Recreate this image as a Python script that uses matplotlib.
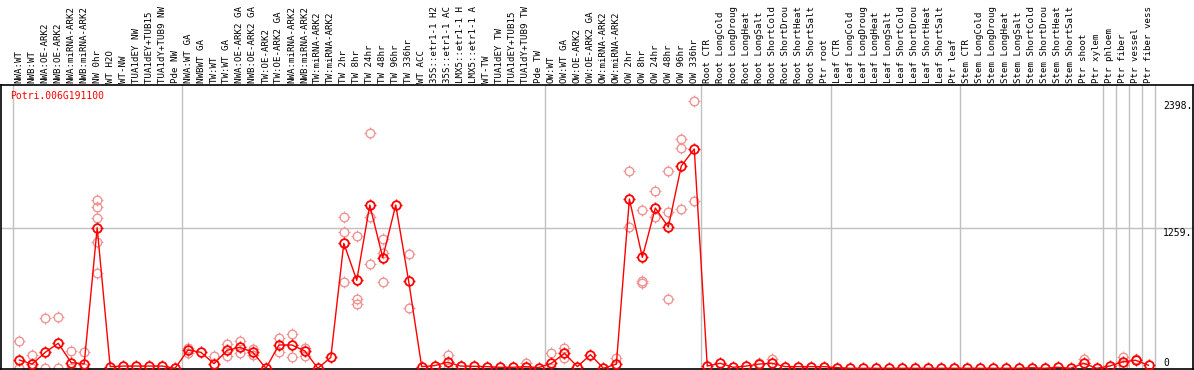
import matplotlib
matplotlib.use("Agg")
import matplotlib.pyplot as plt
import matplotlib.transforms as mtransforms
from matplotlib.path import Path
import numpy as np

categories = [
    "NWA:WT", "NWB:WT", "NWA:OE-ARK2", "NWB:OE-ARK2", "NWA:miRNA-ARK2", "NWB:miRNA-ARK2",
    "NW 0hr", "WT H2O", "WT-NW", "TUA1dEY NW", "TUA1dEY+TUB15 NW", "TUA1dY+TUB9 NW", "Pde NW",
    "NWA:WT GA", "NWBWT GA", "TW:WT", "TW:WT GA", "NWA:OE-ARK2 GA", "NWB:OE-ARK2 GA",
    "TW:OE-ARK2", "TW:OE-ARK2 GA", "NWA:miRNA-ARK2", "NWB:miRNA-ARK2", "TW:miRNA-ARK2",
    "TW:miRNA-ARK2", "TW 2hr", "TW 8hr", "TW 24hr", "TW 48hr", "TW 96hr", "TW 336hr",
    "WT ACC", "35S::etr1-1 H2O", "35S::etr1-1 ACC", "LMX5::etr1-1 H2O", "LMX5::etr1-1 ACC",
    "WT-TW", "TUA1dEY TW", "TUA1dEY+TUB15 TW", "TUA1dY+TUB9 TW", "Pde TW",
    "OW:WT", "OW:WT GA", "OW:OE-ARK2", "OW:OE-ARK2 GA", "OW:miRNA-ARK2", "OW:miRNA-ARK2",
    "OW 2hr", "OW 8hr", "OW 24hr", "OW 48hr", "OW 96hr", "OW 336hr",
    "Root CTR", "Root LongCold", "Root LongDrought", "Root LongHeat", "Root LongSalt",
    "Root ShortCold", "Root ShortDrought", "Root ShortHeat", "Root ShortSalt", "Ptr root",
    "Leaf CTR", "Leaf LongCold", "Leaf LongDrought", "Leaf LongHeat", "Leaf LongSalt",
    "Leaf ShortCold", "Leaf ShortDrought", "Leaf ShortHeat", "Leaf ShortSalt", "Ptr leaf",
    "Stem CTR", "Stem LongCold", "Stem LongDrought", "Stem LongHeat", "Stem LongSalt",
    "Stem ShortCold", "Stem ShortDrought", "Stem ShortHeat", "Stem ShortSalt", "Ptr shoot",
    "Ptr xylem", "Ptr phloem", "Ptr fiber", "Ptr vessel", "Ptr fiber vessel",
]

means = [
    74, 38, 143, 224, 50, 41, 1259, 15, 20, 20, 20, 20, 0,
    164, 143, 41, 161, 188, 143, 0, 209, 209, 155, 0, 98,
    1119, 788, 1462, 991, 1462, 779,
    15, 24, 54, 20, 18, 15, 9, 9, 15, 6,
    45, 134, 15, 122, 0, 38, 1516, 994, 1435, 1265, 1812, 1964,
    20, 45, 9, 20, 38, 45, 15, 15, 15, 15,
    6, 0, 0, 0, 0, 0, 0, 0, 0, 0,
    0, 0, 0, 0, 0, 5, 0, 9, 0, 45, 0,
    20, 58, 72, 27,
]

replicates = {
    0: [244, 0], 1: [116, 0], 2: [448, 0], 3: [457, 0], 4: [155, 0], 5: [143, 0],
    6: [1507, 1442, 1343, 1128, 856],
    13: [185, 134], 15: [114], 16: [218, 113], 17: [247, 134], 18: [170, 120],
    20: [268, 143], 21: [304, 104], 22: [179, 113],
    25: [1352, 1218, 770], 26: [1182, 620, 576], 27: [2104, 1355, 934],
    28: [1158, 1030, 770], 30: [1023, 537], 33: [116, 0], 39: [45],
    41: [134, 0], 42: [179, 89], 46: [89],
    47: [1767, 1262], 48: [1418, 782, 761], 49: [1588, 1358],
    50: [1767, 1400, 618], 51: [2053, 1973, 1427], 52: [2398, 1498],
    57: [50], 58: [80], 82: [80], 85: [103, 27], 86: [80],
}

group_bounds = [-0.5, 12.5, 40.5, 52.5, 62.5, 72.5, 83.5, 84.5, 85.5, 86.5, 87.5]
y_ticks = [2398, 1259, 0]
gene = "Potri.006G191100"
max_label_chars = 14

W, H = 1194, 370
fig = plt.figure(figsize=(W / 100, H / 100), dpi=100)
ax = fig.add_axes([1 / W, (H - 368.5) / H, 1192 / W, (368.5 - 85) / H])

x0_px, dx_px = 19.3, 12.98
ax.set_xlim((1 - x0_px) / dx_px, (1193 - x0_px) / dx_px)
scale = 0.11167
ax.set_ylim(-(368.5 - 368.3) / scale, (368.3 - 85) / scale)
ax.set_xticks([])
ax.set_yticks([])
for s in ax.spines.values():
    s.set_color("black")
    s.set_linewidth(1.2)

grid_c = "#c0c0c0"
for b in group_bounds:
    ax.axvline(b, color=grid_c, lw=1.0, zorder=1)
ax.axhline(y_ticks[1], color=grid_c, lw=1.0, zorder=1)

# short outward ticks around each circle marker
t_out = 1.3
tick_path = Path([(0, 1), (0, t_out), (0, -1), (0, -t_out),
                  (1, 0), (t_out, 0), (-1, 0), (-t_out, 0)],
                 [Path.MOVETO, Path.LINETO] * 4)
D = 6.2  # circle diameter in points

x = np.arange(len(categories))
rx, ry = [], []
for i, vals in replicates.items():
    for v in vals:
        rx.append(i)
        ry.append(v)

def markers(xs, ys, color, mew, z):
    ax.plot(xs, ys, linestyle="none", marker="o", markersize=D,
            markerfacecolor="none", markeredgecolor=color, markeredgewidth=mew, zorder=z)
    ax.plot(xs, ys, linestyle="none", marker=tick_path, markersize=D * t_out,
            markerfacecolor="none", markeredgecolor=color, markeredgewidth=mew * 0.8, zorder=z)

markers(rx, ry, "#f09494", 1.0, 2)
ax.plot(x, means, color="#ff0000", lw=1.0, zorder=3)
markers(x, means, "#ff0000", 1.3, 4)

mono = "DejaVu Sans Mono"
lab_tr = mtransforms.blended_transform_factory(ax.transData, fig.transFigure)
for i, c in enumerate(categories):
    fig.text(i, (H - 83) / H, c[:max_label_chars], rotation=90, ha="center", va="bottom",
             fontsize=6.6, family=mono, transform=lab_tr, color="black")

fig.text(10 / W, (H - 91) / H, gene, color="#ff0000", fontsize=7.0, family=mono,
         ha="left", va="top")

yt_tr = mtransforms.blended_transform_factory(fig.transFigure, ax.transData)
for v in y_ticks:
    lab = "0" if v == 0 else f"{v}."
    fig.text(1163 / W, v, lab, fontsize=7.0, family=mono, transform=yt_tr,
             ha="left", va="bottom" if v == 0 else "top", color="black")

fig.savefig("out.png", dpi=100)
